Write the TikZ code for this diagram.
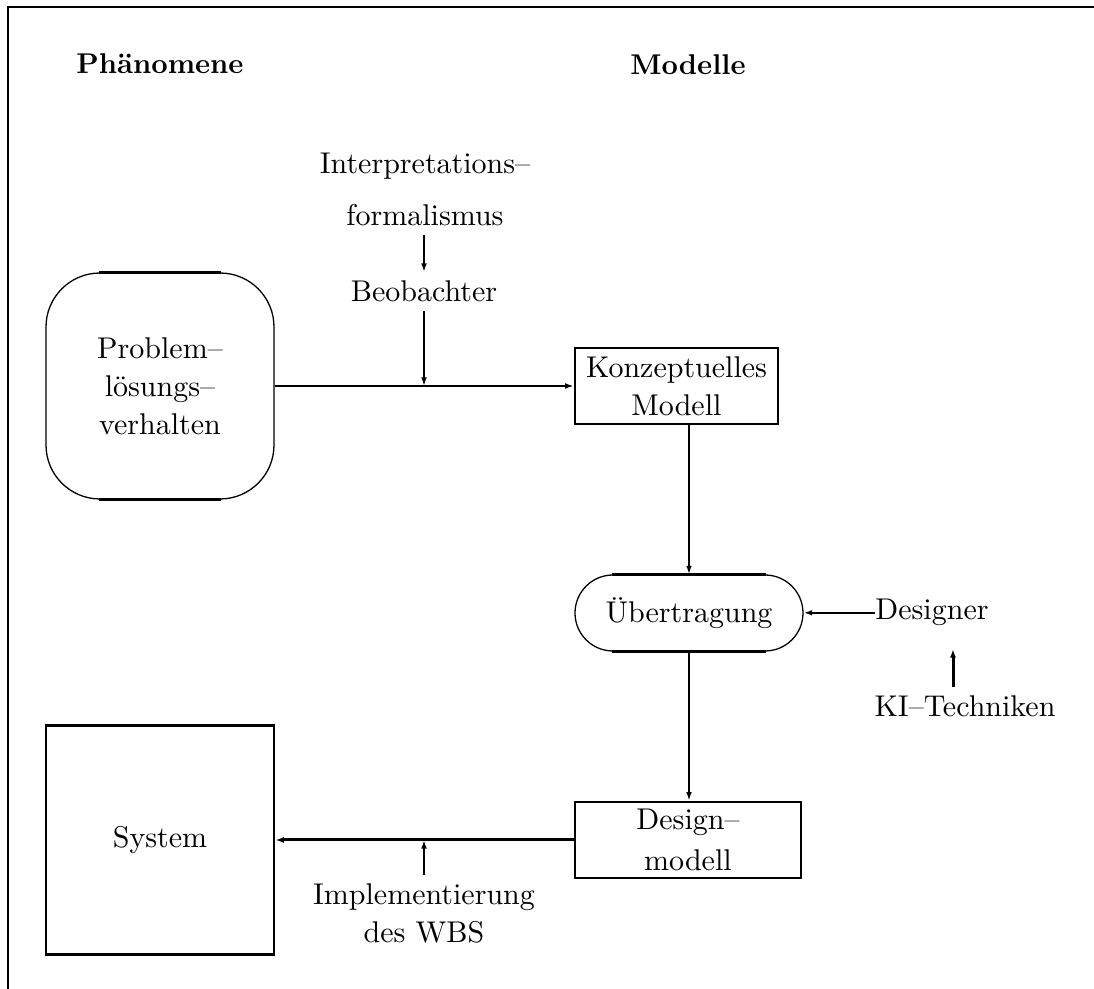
\documentclass[tikz,border=0pt]{standalone}
\usetikzlibrary{arrows.meta}
\begin{document}
\begin{tikzpicture}[x=0.35pt,y=-0.35pt,
  every node/.style={font=\fontsize{10.5}{13.3}\selectfont},
  hd/.style={font=\fontsize{10}{12}\selectfont\bfseries, anchor=base, inner sep=0pt},
  lbl/.style={inner sep=3pt},
  thickline/.style={line width=0.9pt},
  thinline/.style={line width=0.45pt},
  boxnode/.style={draw, line width=0.9pt, align=center, inner sep=0pt},
  roundnode/.style={draw, line width=0.45pt, align=center, inner sep=0pt},
  arr/.style={line width=0.75pt,-{Latex[length=3pt,width=2pt]}},
  bigarr/.style={line width=1.05pt,-{Latex[length=3pt,width=2.1pt]}}
]
\useasboundingbox (0,0) rectangle (1094,989);
\draw[line width=0.8pt] (1094,7) -- (8,7) -- (8,989);

% headings
\node[hd] (phaen) at (160,74) {Phänomene};
\node[hd] (model) at (688,75) {Modelle};

% problem box
\node[roundnode, rounded corners=18.9pt, minimum width=79.8pt, minimum height=79.1pt] (prob) at (160,386) {Problem–\\lösungs–\\verhalten};
\draw[thickline] ([xshift=18.9pt]prob.north west) -- ([xshift=-18.9pt]prob.north east);
\draw[thickline] ([xshift=18.9pt]prob.south west) -- ([xshift=-18.9pt]prob.south east);

% konzeptuelles Modell
\node[boxnode, minimum width=71pt, minimum height=26.6pt] (konz) at (676.5,386) {Konzeptuelles\\Modell};

% Uebertragung
\node[roundnode, rounded corners=13.3pt, minimum width=79.8pt, minimum height=26.6pt] (uebt) at (689,613) {Übertragung};
\draw[thickline] ([xshift=13.3pt]uebt.north west) -- ([xshift=-13.3pt]uebt.north east);
\draw[thickline] ([xshift=13.3pt]uebt.south west) -- ([xshift=-13.3pt]uebt.south east);

% Designmodell
\node[boxnode, minimum width=79.1pt, minimum height=26.6pt, font=\fontsize{10.5}{14.35}\selectfont] (dm) at (688,840) {Design–\\modell};

% System
\node[boxnode, minimum width=79.8pt, minimum height=80.15pt] (sys) at (160,840) {System};

% labels
\node[lbl, align=center, font=\fontsize{10.5}{18.2}\selectfont] (interp) at (425,189) {Interpretations–\\formalismus};
\node[lbl, anchor=base] (beob) at (424,302) {Beobachter};
\node[anchor=base, inner sep=0pt] (des) at (932,620) {Designer};
\node[lbl, anchor=base] (ki) at (965,717) {KI–Techniken};
\node[lbl, align=center] (impl) at (424,913.6) {Implementierung\\des WBS};

\coordinate (m1) at (beob.south |- konz.west);
\coordinate (m2) at (impl.north |- dm.west);
\coordinate (kitop) at (953,649);

% connectors
\draw[arr, line width=0.6pt] (beob.north |- interp.south) -- (beob.north);
\draw[arr] (beob.south) -- (m1);
\draw[arr] (prob.east) -- (konz.west);
\draw[arr] (uebt.north |- konz.south) -- (uebt.north);
\draw[arr] (des.west) -- (uebt.east |- des.west);
\draw[bigarr] (ki.north -| kitop) -- (kitop);
\draw[arr] (uebt.south) -- (uebt.south |- dm.north);
\draw[bigarr] (dm.west) -- (sys.east |- dm.west);
\draw[arr] (impl.north) -- (m2);
\end{tikzpicture}
\end{document}
